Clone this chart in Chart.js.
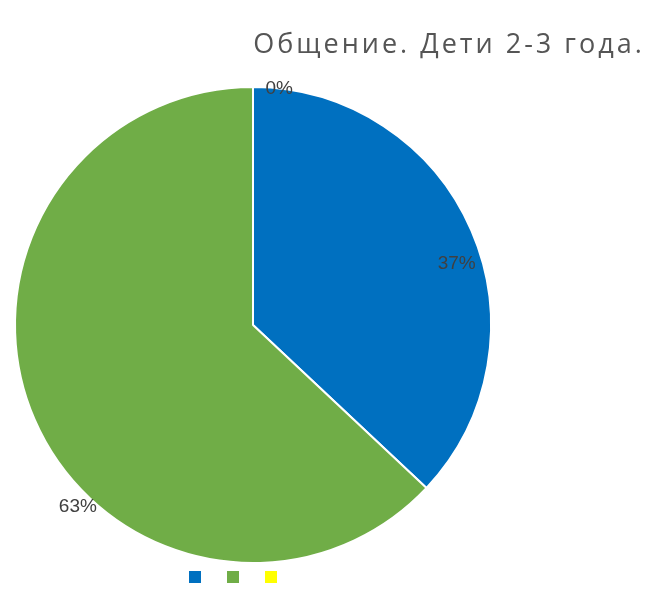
<!DOCTYPE html>
<html>
<head>
<meta charset="utf-8">
<script src="https://cdn.jsdelivr.net/npm/chart.js@4/dist/chart.umd.min.js"></script>
<style>
  html, body { margin: 0; padding: 0; background: #ffffff; }
  #wrap { width: 652px; height: 592px; }
</style>
</head>
<body>
<div id="wrap"><canvas id="c" width="652" height="592"></canvas></div>
<script>
// Chart content
const chartTitle = 'Общение. Дети 2-3 года.';
const categories = ['', '', ''];
const shares = [37, 63, 0];
const sliceColors = ['#0070C0', '#70AD47', '#FFFF00'];

// Percent labels drawn on each slice, placed along the slice's own arc
const sliceLabels = {
  id: 'sliceLabels',
  afterDatasetsDraw(chart, args, opts) {
    const ctx = chart.ctx;
    const meta = chart.getDatasetMeta(0);
    const values = chart.data.datasets[0].data;
    ctx.save();
    ctx.font = opts.font;
    ctx.fillStyle = opts.color;
    ctx.textAlign = 'center';
    ctx.textBaseline = 'middle';
    meta.data.forEach((arc, i) => {
      const p = arc.getProps(['x', 'y', 'startAngle', 'endAngle', 'outerRadius'], true);
      const place = opts.place[i];
      const a = p.startAngle + place.t * (p.endAngle - p.startAngle) + place.shift * Math.PI / 180;
      const r = p.outerRadius * place.rf;
      ctx.fillText(values[i] + '%', p.x + Math.cos(a) * r, p.y + Math.sin(a) * r);
    });
    ctx.restore();
  }
};

// Wider letter spacing for the heading only
const headingSpacing = {
  id: 'headingSpacing',
  beforeDraw(chart, args, opts) { chart.ctx.letterSpacing = opts.spacing; },
  beforeDatasetsDraw(chart) { chart.ctx.letterSpacing = '0px'; }
};

// Moves the heading and the legend row away from the pie's column
const boxOffsets = {
  id: 'boxOffsets',
  afterLayout(chart, args, opts) {
    const t = chart.titleBlock;
    if (t) {
      const w = t.right - t.left;
      t.left = opts.titleCenter - w / 2;
      t.right = opts.titleCenter + w / 2;
    }
    const l = chart.legend;
    if (l) {
      l.left += opts.legendDx; l.right += opts.legendDx;
      l.top += opts.legendDy;
    }
  }
};

const baseLabels = Chart.overrides.pie.plugins.legend.labels.generateLabels;

new Chart(document.getElementById('c'), {
  type: 'pie',
  data: {
    labels: categories,
    datasets: [{
      data: shares,
      backgroundColor: sliceColors,
      borderColor: '#ffffff',
      borderWidth: 2
    }]
  },
  options: {
    responsive: false,
    animation: false,
    layout: { padding: { left: 11, right: 157, top: 0, bottom: 0 } },
    plugins: {
      title: {
        display: true,
        text: chartTitle,
        color: '#555555',
        font: { family: 'Open Sans', size: 27, weight: 'normal', lineHeight: 1.2 },
        padding: { top: 29, bottom: 24.6 }
      },
      legend: {
        display: true,
        position: 'bottom',
        maxHeight: 28,
        labels: {
          boxWidth: 12,
          boxHeight: 12,
          padding: 20,
          font: { size: 12 },
          generateLabels(chart) {
            return baseLabels(chart).map(item => Object.assign(item, { lineWidth: 0 }));
          }
        }
      },
      tooltip: { enabled: false },
      sliceLabels: {
        font: '19px "Liberation Sans"',
        color: '#404040',
        place: [
          { t: 0.55, rf: 0.894, shift: 0 },
          { t: 0.40, rf: 1.061, shift: 0 },
          { t: 0, rf: 1.0, shift: 6.3 }
        ]
      },
      headingSpacing: { spacing: '3px' },
      boxOffsets: { titleCenter: 449, legendDx: -17, legendDy: -13 }
    }
  },
  plugins: [sliceLabels, headingSpacing, boxOffsets]
});
</script>
</body>
</html>
